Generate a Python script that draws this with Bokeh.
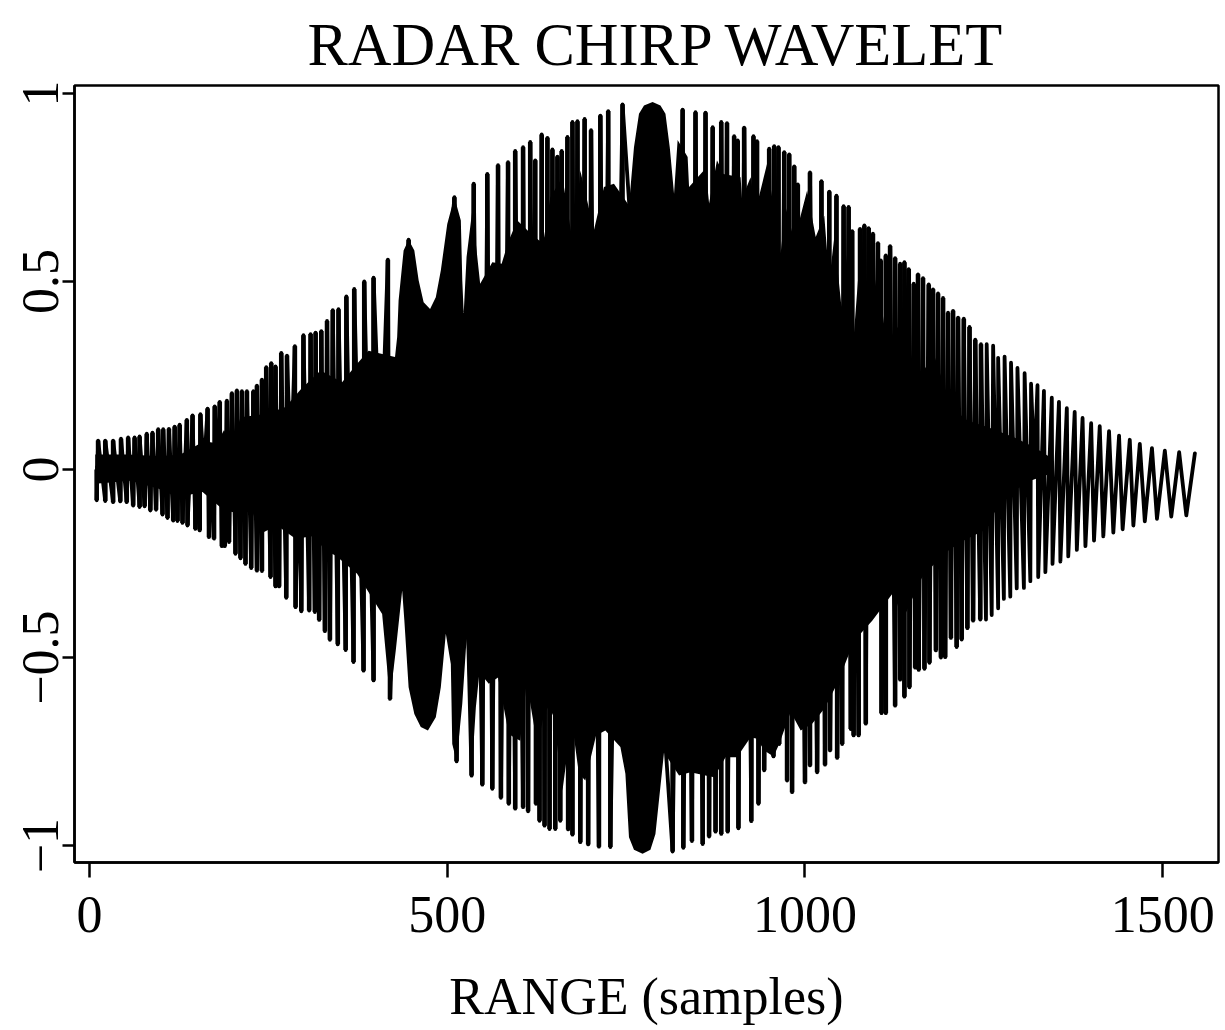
from bokeh.plotting import figure
from bokeh.embed import file_html
from bokeh.resources import INLINE
from bokeh.models import FixedTicker, Range1d

TITLE = "RADAR CHIRP WAVELET"
XLABEL = "RANGE (samples)"
x_ticks = [0, 500, 1000, 1500]
y_ticks = [-1, -0.5, 0, 0.5, 1]
y_tick_labels = {-1: "\u22121", -0.5: "\u22120.5", 0: "0", 0.5: "0.5", 1: "1"}

upper_samples = [12,22,33,44,54,63,70,80,88,96,103,111,119,126,136,144,155,165,175,182,192,199,206,213,220,229,234,241,247,254,260,268,276,287,299,309,316,324,332,340,348,359,370,384,397,417,446,510,537,556,571,585,595,606,616,623,632,640,647,654,660,668,675,682,692,701,714,725,745,829,847,861,871,883,891,901,906,915,928,933,950,957,963,971,978,985,990,1007,1023,1034,1044,1054,1061,1066,1077,1083,1089,1095,1102,1106,1113,1119,1126,1133,1139,1145,1152,1158,1165,1173,1179,1186,1193,1200,1207,1214,1222,1230,1238,1246,1254,1263,1270,1279,1288,1297,1307,1316,1325,1334,1345,1355,1366,1377,1388,1400,1412,1425,1439,1454,1468,1485,1503,1523,1545]
upper_values = [.077,.077,.077,.082,.085,.085,.088,.095,.098,.107,.107,.108,.114,.119,.132,.144,.147,.162,.168,.18,.183,.203,.21,.208,.208,.208,.223,.239,.272,.283,.274,.31,.303,.328,.357,.36,.364,.368,.395,.424,.426,.46,.48,.50,.51,.558,.611,.724,.76,.786,.809,.817,.847,.857,.871,.822,.891,.882,.851,.832,.847,.884,.924,.926,.932,.902,.941,.953,.971,.957,.95,.949,.91,.924,.921,.886,.875,.909,.886,.873,.853,.86,.857,.844,.838,.806,.758,.79,.767,.739,.728,.7,.698,.634,.64,.649,.642,.627,.602,.556,.569,.594,.562,.547,.551,.533,.494,.519,.509,.492,.479,.468,.456,.417,.422,.404,.401,.379,.345,.333,.333,.329,.297,.3,.284,.27,.256,.228,.224,.209,.191,.18,.163,.153,.137,.123,.115,.102,.09,.079,.068,.057,.05,.046,.043]

lower_samples = [10,22,33,43,52,61,70,77,85,93,102,109,117,123,130,137,148,154,167,174,185,189,195,204,211,218,226,234,241,253,260,265,275,288,296,307,315,321,329,336,347,358,369,383,397,420,513,534,549,563,575,586,595,606,613,624,629,636,643,651,658,669,675,686,697,712,728,815,830,842,857,866,875,883,892,907,925,935,943,956,964,975,982,1000,1007,1017,1028,1035,1045,1052,1064,1068,1075,1085,1107,1113,1126,1133,1139,1146,1154,1159,1167,1174,1183,1190,1196,1204,1212,1219,1227,1235,1245,1253,1261,1270,1278,1287,1296,1306,1315,1326,1336,1346,1357,1368,1380,1392,1404,1417,1431,1444,1459,1475,1492,1512,1533]
lower_values = [-.082,-.084,-.087,-.085,-.087,-.096,-.1,-.098,-.109,-.107,-.12,-.129,-.136,-.137,-.142,-.149,-.158,-.162,-.18,-.184,-.204,-.204,-.193,-.224,-.236,-.251,-.262,-.269,-.27,-.286,-.311,-.311,-.341,-.366,-.377,-.375,-.379,-.4,-.43,-.453,-.465,-.48,-.512,-.535,-.561,-.61,-.776,-.814,-.838,-.849,-.873,-.889,-.902,-.898,-.909,-.889,-.934,-.947,-.956,-.956,-.934,-.957,-.971,-.991,-.997,-1.003,-1.004,-1.016,-1.006,-.988,-.996,-.976,-.963,-.969,-.963,-.954,-.935,-.889,-.8,-.763,-.73,-.827,-.858,-.832,-.787,-.805,-.785,-.747,-.767,-.73,-.69,-.707,-.707,-.676,-.648,-.648,-.628,-.559,-.604,-.579,-.527,-.533,-.53,-.514,-.481,-.5,-.499,-.448,-.472,-.452,-.422,-.402,-.399,-.399,-.387,-.369,-.344,-.338,-.316,-.315,-.297,-.286,-.273,-.251,-.245,-.231,-.214,-.204,-.189,-.178,-.168,-.159,-.149,-.138,-.131,-.125,-.122]

core_top_samples = [8,53,99,127,160,178,188,199,211,248,274,296,323,353,374,390,427,430,432,439,446,454,460,467,476,484,491,500,510,519,521,523,527,535,546,563,576,586,598,617,634,644,661,676,686,705,719,733,754,761,768,775,787,798,805,811,817,822,836,838,861,866,877,886,910,912,924,931,947,966,973,985,1003,1015,1027,1034,1041,1051,1059,1067,1075,1092,1101,1114,1129,1148,1155,1180,1204,1227,1255,1292,1320,1345]
core_top_values = [.04,.04,.035,.04,.075,.07,.105,.065,.139,.148,.166,.215,.263,.232,.281,.316,.299,.352,.449,.582,.611,.582,.503,.445,.427,.458,.529,.653,.724,.662,.503,.416,.565,.689,.494,.551,.547,.609,.662,.627,.6,.724,.777,.596,.795,.636,.751,.76,.702,.857,.946,.968,.977,.968,.946,.857,.733,.876,.831,.751,.8,.707,.822,.786,.777,.72,.777,.689,.813,.574,.698,.609,.742,.618,.675,.503,.618,.432,.574,.325,.525,.405,.529,.334,.379,.308,.228,.308,.166,.13,.113,.086,.06,.03]

core_bottom_samples = [8,57,95,123,158,188,213,227,239,262,288,316,328,344,374,409,420,428,437,440,446,454,463,473,484,491,498,505,507,513,521,527,534,540,545,558,571,586,593,602,611,626,635,642,649,661,674,684,693,708,721,742,749,754,761,773,784,791,803,824,840,861,873,889,905,924,933,943,956,964,980,994,1010,1027,1045,1069,1094,1124,1136,1164,1194,1218,1250,1278,1316,1345]
core_bottom_values = [-.038,-.03,-.05,-.074,-.06,-.109,-.118,-.109,-.171,-.149,-.184,-.176,-.215,-.229,-.277,-.384,-.61,-.482,-.322,-.4,-.579,-.65,-.685,-.694,-.659,-.579,-.437,-.517,-.73,-.776,-.623,-.45,-.814,-.632,-.539,-.57,-.553,-.703,-.712,-.721,-.566,-.734,-.654,-.628,-.659,-.854,-.668,-.809,-.827,-.707,-.694,-.738,-.809,-.978,-1.011,-1.022,-1.011,-.969,-.752,-.814,-.805,-.814,-.818,-.765,-.765,-.712,-.716,-.747,-.763,-.73,-.645,-.694,-.676,-.636,-.57,-.455,-.402,-.326,-.402,-.286,-.224,-.193,-.162,-.073,-.029,-.01]

# merge the read-off turning points into one trace
points = sorted(list(zip(upper_samples, upper_values)) + list(zip(lower_samples, lower_values)))
trace_x, trace_y = [], []
for s, v in points:
    if trace_y and (trace_y[-1] > 0) == (v > 0):
        trace_x.append((trace_x[-1] + s) / 2)
        trace_y.append(0)
    trace_x.append(s)
    trace_y.append(v)

# the dense part of the trace reads as solid stems at each peak
STEM_LIMIT = 1250
stem_x = [s for s, v in points if s <= STEM_LIMIT]
stem_y = [v for s, v in points if s <= STEM_LIMIT]

FONT = "Liberation Serif"
p = figure(width=1220, height=1028, output_backend="svg", toolbar_location=None,
           x_range=Range1d(-21, 1578), y_range=Range1d(-1.045, 1.021),
           min_border_left=74, min_border_right=2, min_border_top=22, min_border_bottom=0)
p.frame_width = 1144
p.frame_height = 777
p.background_fill_color = "white"
p.grid.visible = False
p.outline_line_color = "black"
p.outline_line_width = 2.5

p.title.text = TITLE
p.title.text_font = FONT
p.title.text_font_size = "60.5px"
p.title.text_font_style = "normal"
p.title.text_color = "black"
p.title.align = "left"
p.title.offset = 233
p.title.standoff = 16

p.varea(x=core_top_samples, y1=-0.01, y2=core_top_values, fill_color="black")
p.varea(x=core_bottom_samples, y1=0.01, y2=core_bottom_values, fill_color="black")
p.segment(x0=stem_x, y0=[0] * len(stem_x), x1=stem_x, y1=stem_y, line_color="black", line_width=4.6)
p.line(trace_x, trace_y, line_color="black", line_width=3.8, line_join="round", line_cap="round")

xa = p.xaxis[0]
xa.ticker = FixedTicker(ticks=x_ticks)
xa.axis_label = XLABEL
xa.axis_label_text_font = FONT
xa.axis_label_text_font_size = "52px"
xa.axis_label_text_font_style = "normal"
xa.axis_label_text_color = "black"
xa.axis_label_standoff = 33
xa.major_label_text_font = FONT
xa.major_label_text_font_size = "52px"
xa.major_label_text_color = "black"
xa.major_label_standoff = 19
xa.major_tick_out = 15
xa.major_tick_in = 0
xa.major_tick_line_width = 2.5
xa.major_tick_line_color = "black"
xa.minor_tick_line_color = None
xa.axis_line_width = 2.5
xa.axis_line_color = "black"

ya = p.yaxis[0]
ya.ticker = FixedTicker(ticks=y_ticks)
ya.major_label_overrides = y_tick_labels
ya.major_label_orientation = "vertical"
ya.major_label_text_font = FONT
ya.major_label_text_font_size = "52px"
ya.major_label_text_color = "black"
ya.major_label_standoff = 4
ya.major_tick_out = 12
ya.major_tick_in = 0
ya.major_tick_line_width = 2.5
ya.major_tick_line_color = "black"
ya.minor_tick_line_color = None
ya.axis_line_width = 2.5
ya.axis_line_color = "black"

open("out.html", "w").write(file_html(p, INLINE))
